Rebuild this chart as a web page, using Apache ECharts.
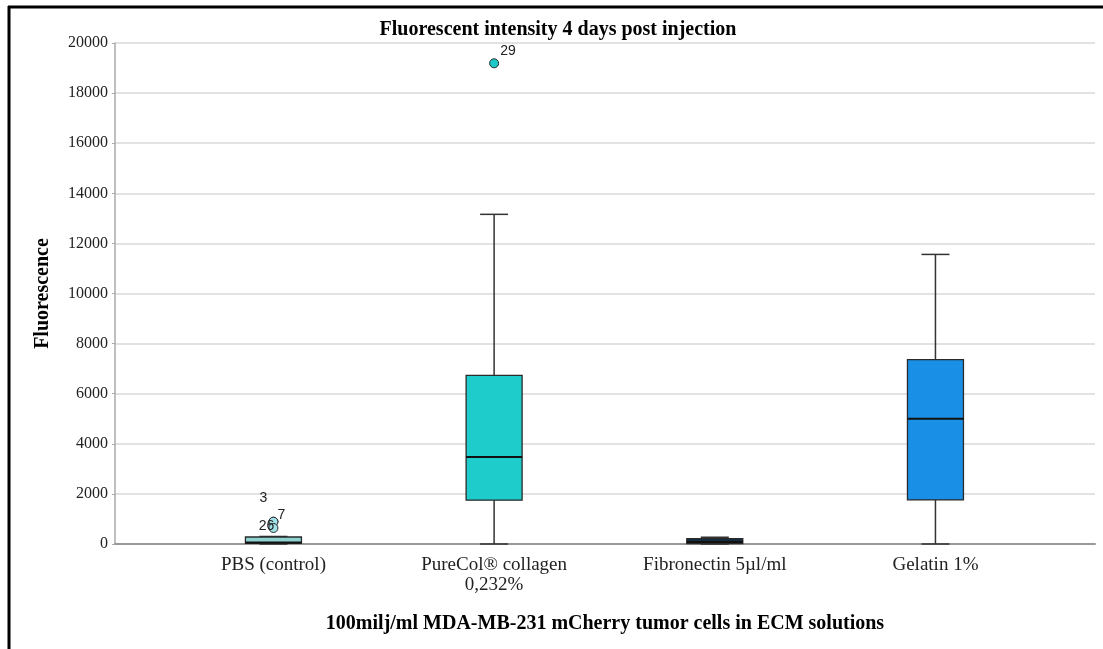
<!DOCTYPE html>
<html>
<head>
<meta charset="utf-8">
<script src="https://cdn.jsdelivr.net/npm/echarts@6/dist/echarts.min.js"></script>
<style>
  html, body { margin: 0; padding: 0; background: #fff; }
  #chart { width: 1103px; height: 649px; }
</style>
</head>
<body>
<div id="chart"></div>
<script>
// groups on the x axis
const categories = ['PBS (control)', 'PureCol® collagen\n0,232%', 'Fibronectin 5µl/ml', 'Gelatin 1%']
// box stats per group: min, Q1, median, Q3, max
const whiskerMin = [0, 0, 0, 0]
const quart1 = [30, 1750, 20, 1760]
const medians = [60, 3470, 80, 5000]
const quart3 = [280, 6730, 210, 7360]
const whiskerMax = [300, 13160, 270, 11560]
// outliers
const outlierIds = ['3', '7', '26', '29']
const outlierGroup = [0, 0, 0, 1]
const outlierValues = [890, 890, 640, 19190]
const yTicks = [0, 2000, 4000, 6000, 8000, 10000, 12000, 14000, 16000, 18000, 20000]

const boxColors = ['#8fd2d2', '#1fcccc', '#0e2c45', '#1a8fe6']
const outlierColors = ['#9fe2e8', '#9fe2e8', '#9fe2e8', '#1fc8c8']
const labelOffsets = [[-10, -24], [8, -7], [-7, -2], [14, -12]]
const serif = 'Liberation Serif'

const chart = echarts.init(document.getElementById('chart'))

const boxData = categories.map((c, i) => [i, whiskerMin[i], quart1[i], medians[i], quart3[i], whiskerMax[i]])
const outlierData = outlierIds.map((id, i) => ({
  value: [outlierGroup[i], outlierValues[i]],
  itemStyle: { color: outlierColors[i] },
  label: { offset: labelOffsets[i] },
}))

const option = {
  animation: false,
  title: {
    text: 'Fluorescent intensity 4 days post injection',
    left: 553,
    top: 15,
    textAlign: 'center',
    textStyle: { fontFamily: serif, fontSize: 20, fontWeight: 'bold', color: '#000' },
  },
  graphic: [
    { type: 'line', shape: { x1: 8, y1: 7, x2: 1103, y2: 7 }, style: { stroke: '#000', lineWidth: 3 } },
    { type: 'line', shape: { x1: 9, y1: 6, x2: 9, y2: 649 }, style: { stroke: '#000', lineWidth: 3 } },
  ],
  grid: { left: 115, right: 8, top: 43, bottom: 105, containLabel: false },
  xAxis: {
    type: 'value',
    min: -0.718,
    max: 3.723,
    name: '100milj/ml MDA-MB-231 mCherry tumor cells in ECM solutions',
    nameLocation: 'middle',
    nameGap: 70,
    nameTextStyle: { fontFamily: serif, fontSize: 20, fontWeight: 'bold', color: '#000' },
    axisLine: { show: true, onZero: false, lineStyle: { color: '#999', width: 2 } },
    axisTick: { show: false },
    splitLine: { show: false },
    axisLabel: {
      customValues: [0, 1, 2, 3],
      formatter: (v) => categories[Math.round(v)],
      fontFamily: serif,
      fontSize: 19,
      color: '#222',
      margin: 11,
      lineHeight: 20,
    },
  },
  yAxis: {
    type: 'value',
    min: 0,
    max: 20000,
    interval: 2000,
    name: 'Fluorescence',
    nameLocation: 'middle',
    nameGap: 62,
    nameTextStyle: { fontFamily: serif, fontSize: 20, fontWeight: 'bold', color: '#000' },
    axisLine: { show: true, onZero: false, lineStyle: { color: '#aaa', width: 1.5 } },
    axisTick: { show: true, length: 3, lineStyle: { color: '#aaa' } },
    axisLabel: {
      customValues: yTicks,
      formatter: (v) => String(v),
      fontFamily: serif,
      fontSize: 16,
      color: '#222',
      margin: 7,
    },
    splitLine: { show: true, lineStyle: { color: '#d9d9d9', width: 1.5 } },
  },
  series: [
    {
      type: 'custom',
      data: boxData,
      encode: { x: 0, y: [1, 2, 3, 4, 5] },
      renderItem: (params, api) => {
        const x = api.value(0)
        const pMin = api.coord([x, api.value(1)])
        const pQ1 = api.coord([x, api.value(2)])
        const pMed = api.coord([x, api.value(3)])
        const pQ3 = api.coord([x, api.value(4)])
        const pMax = api.coord([x, api.value(5)])
        const cx = pMin[0]
        const half = 28
        const cap = 14
        const lineStyle = { stroke: '#333', lineWidth: 1.5 }
        return {
          type: 'group',
          children: [
            { type: 'line', shape: { x1: cx, y1: pMin[1], x2: cx, y2: pQ1[1] }, style: lineStyle },
            { type: 'line', shape: { x1: cx, y1: pQ3[1], x2: cx, y2: pMax[1] }, style: lineStyle },
            { type: 'line', shape: { x1: cx - cap, y1: pMin[1], x2: cx + cap, y2: pMin[1] }, style: lineStyle },
            { type: 'line', shape: { x1: cx - cap, y1: pMax[1], x2: cx + cap, y2: pMax[1] }, style: lineStyle },
            {
              type: 'rect',
              shape: { x: cx - half, y: pQ3[1], width: half * 2, height: pQ1[1] - pQ3[1] },
              style: { fill: boxColors[params.dataIndex], stroke: '#2a2a2a', lineWidth: 1.3 },
            },
            { type: 'line', shape: { x1: cx - half, y1: pMed[1], x2: cx + half, y2: pMed[1] }, style: { stroke: '#111', lineWidth: 2 } },
          ],
        }
      },
      z: 2,
    },
    {
      type: 'scatter',
      data: outlierData,
      symbolSize: 9,
      itemStyle: { borderColor: '#2a2a2a', borderWidth: 1, opacity: 1 },
      label: {
        show: true,
        position: 'inside',
        formatter: (p) => outlierIds[p.dataIndex],
        fontFamily: 'Liberation Sans',
        fontSize: 14,
        color: '#222',
      },
      z: 3,
    },
  ],
}

chart.setOption(option)
</script>
</body>
</html>
